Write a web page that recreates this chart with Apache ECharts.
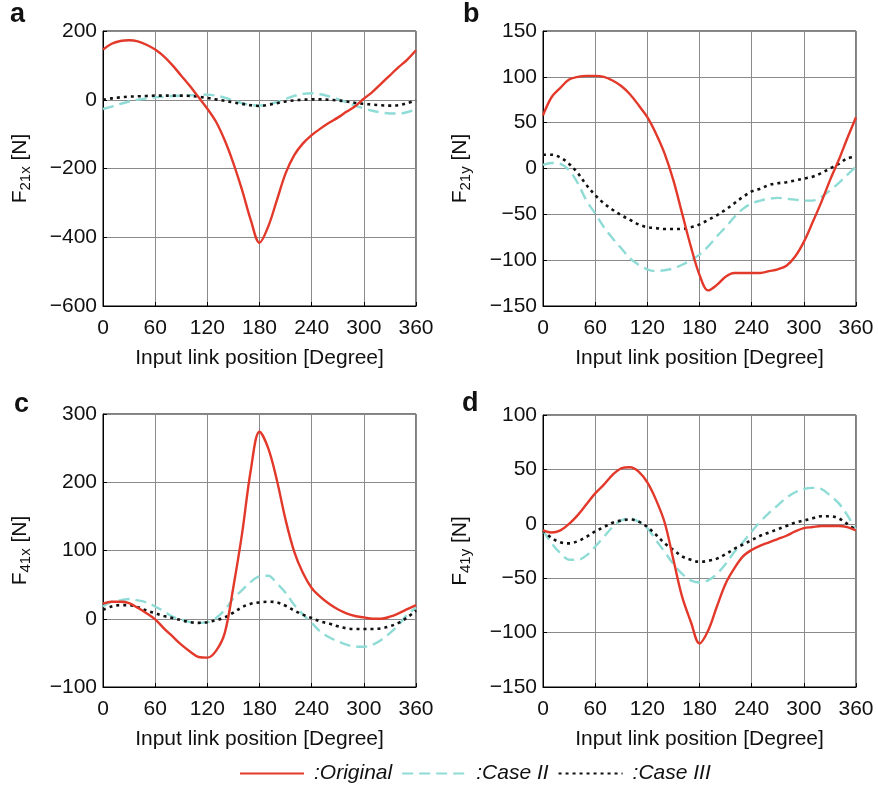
<!DOCTYPE html>
<html>
<head>
<meta charset="utf-8">
<script src="https://cdn.jsdelivr.net/npm/echarts@6/dist/echarts.min.js"></script>
<style>
  html, body { margin: 0; padding: 0; background: #fff; }
  #main { width: 878px; height: 788px; }
</style>
</head>
<body>
<div id="main"></div>
<script>
// input link position, degrees
var deg = [0, 10, 20, 30, 40, 50, 60, 70, 80, 90, 100, 110, 120, 130, 140, 150, 160, 170, 180,
           190, 200, 210, 220, 230, 240, 250, 260, 270, 280, 290, 300, 310, 320, 330, 340, 350, 360];

// a: F21x
var aOrig  = [146, 163, 171, 173, 170, 160, 146, 126, 100, 70, 40, 7, -26, -64, -118, -185, -263, -350, -416,
              -369, -292, -214, -161, -127, -103, -84, -67, -52, -35, -19, 3, 23, 47, 71, 95, 117, 144];
var aCase2 = [-27, -20, -12, -5, 0, 4, 7, 9, 11, 12, 13, 14, 15, 12, 6, -2, -10, -15, -17,
              -13, -7, 2, 11, 17, 19, 16, 10, 2, -8, -17, -25, -32, -37, -40, -40, -36, -28];
var aCase3 = [0, 4, 7, 9, 10, 11, 12, 12, 12, 12, 11, 9, 5, 1, -3, -8, -12, -16, -18,
              -15, -10, -5, -2, 0, 1, 1, 0, -2, -5, -9, -12, -14, -16, -17, -16, -10, -2];

// b: F21y
var bOrig  = [58, 78, 88, 97, 100, 101, 101, 100, 96, 90, 81, 69, 56, 38, 16, -13, -49, -85, -116,
              -133, -127, -118, -114, -114, -114, -114, -112, -110, -106, -96, -80, -59, -37, -13, 9, 33, 56];
var bCase2 = [4, 6, 5, -2, -16, -35, -49, -64, -76, -87, -98, -105, -110, -112, -111, -109, -105, -100, -94,
              -85, -74, -64, -53, -44, -38, -35, -33, -32, -33, -34, -35, -35, -31, -24, -16, -7, 2];
var bCase3 = [15, 15, 12, 5, -5, -18, -29, -38, -45, -51, -56, -61, -64, -65, -66, -66, -66, -64, -61,
              -56, -51, -45, -38, -31, -25, -22, -18, -16, -15, -13, -11, -9, -5, 0, 5, 11, 13];

// c: F41x
var cOrig  = [22, 25, 25, 23, 16, 8, -1, -14, -26, -38, -48, -56, -57, -47, -21, 47, 125, 218, 274,
              250, 203, 145, 98, 67, 45, 32, 22, 14, 8, 4, 2, 0, 0, 3, 8, 14, 20];
var cCase2 = [18, 25, 27, 29, 27, 24, 18, 11, 3, -1, -5, -6, -5, 1, 13, 30, 42, 54, 62,
              63, 52, 38, 20, 6, -6, -19, -27, -33, -38, -41, -41, -38, -31, -21, -9, 6, 16];
var cCase3 = [13, 18, 20, 20, 17, 12, 8, 4, 1, -2, -5, -6, -5, -2, 2, 9, 17, 22, 24,
              25, 24, 19, 12, 6, 1, -4, -7, -11, -14, -15, -15, -15, -14, -11, -6, 2, 12];

// d: F41y
var dOrig  = [-6, -8, -6, 0, 8, 18, 28, 36, 45, 51, 52, 48, 38, 22, 1, -33, -67, -90, -110,
              -98, -76, -55, -41, -30, -24, -20, -17, -14, -11, -7, -4, -3, -2, -2, -2, -3, -6];
var dCase2 = [-6, -18, -27, -33, -33, -29, -21, -12, -3, 3, 5, 2, -4, -15, -26, -37, -46, -52, -54,
              -52, -46, -37, -26, -17, -7, 2, 10, 17, 24, 29, 32, 33, 32, 26, 19, 8, -6];
var dCase3 = [-6, -13, -17, -18, -16, -12, -7, -3, 1, 3, 4, 2, -3, -10, -18, -24, -30, -33, -35,
              -34, -32, -28, -23, -19, -15, -11, -8, -5, -2, 1, 3, 5, 7, 7, 5, 0, -6];

var seriesNames = ['Original', 'Case II', 'Case III'];
var yNames = [['21x', 200, -600, 200], ['21y', 150, -150, 50], ['41x', 300, -100, 100], ['41y', 100, -150, 50]];
var panelLetters = ['a', 'b', 'c', 'd'];

var FONT = '"Liberation Sans", Arial, Helvetica, sans-serif';
var RED = '#e2392b', CYAN = '#8fdcd6', BLACK = '#111';

var grids = [
    {left: 103, top: 31, width: 313, height: 275},
    {left: 543, top: 31, width: 313, height: 275},
    {left: 103, top: 414, width: 313, height: 273},
    {left: 543, top: 415, width: 313, height: 272}
];
grids.forEach(function (g) {
    g.show = true;
    g.borderColor = '#000';
    g.borderWidth = 1;
    g.backgroundColor = 'transparent';
    g.containLabel = false;
});

function pairs(vals) {
    return deg.map(function (d, i) { return [d, vals[i]]; });
}

var xAxes = [], yAxes = [];
for (var i = 0; i < 4; i++) {
    xAxes.push({
        type: 'value', gridIndex: i, min: 0, max: 360, interval: 60,
        name: 'Input link position [Degree]', nameLocation: 'middle', nameGap: 42,
        nameTextStyle: {fontFamily: FONT, fontSize: 21, color: '#111'},
        axisLine: {show: true, onZero: false, lineStyle: {color: '#000', width: 1}},
        axisTick: {show: true, inside: true, length: 4, lineStyle: {color: '#000'}},
        axisLabel: {fontFamily: FONT, fontSize: 21, color: '#111', margin: 12},
        splitLine: {show: true, lineStyle: {color: '#8a8a8a', width: 1}}
    });
    var yn = yNames[i];
    yAxes.push({
        type: 'value', gridIndex: i, min: yn[2], max: yn[1], interval: yn[3],
        name: '{n|F}{s|' + yn[0] + '}{n| [N]}', nameLocation: 'middle', nameGap: 70,
        nameTextStyle: {
            fontFamily: FONT, color: '#111',
            rich: {
                n: {fontFamily: FONT, fontSize: 21, lineHeight: 26, color: '#111'},
                s: {fontFamily: FONT, fontSize: 15, lineHeight: 17, verticalAlign: 'bottom', color: '#111'}
            }
        },
        axisLine: {show: true, onZero: false, lineStyle: {color: '#000', width: 1}},
        axisTick: {show: true, inside: true, length: 4, lineStyle: {color: '#000'}},
        axisLabel: {
            fontFamily: FONT, fontSize: 21, color: '#111', margin: 6,
            formatter: function (v) { return v < 0 ? '\u2212' + Math.abs(v) : String(v); }
        },
        splitLine: {show: true, lineStyle: {color: '#8a8a8a', width: 1}}
    });
}

var panelData = [
    [aOrig, aCase2, aCase3],
    [bOrig, bCase2, bCase3],
    [cOrig, cCase2, cCase3],
    [dOrig, dCase2, dCase3]
];

var series = [];
panelData.forEach(function (p, i) {
    // cyan and black first, red on top
    series.push({
        name: seriesNames[1], type: 'line', xAxisIndex: i, yAxisIndex: i,
        data: pairs(p[1]), showSymbol: false, symbol: 'none', smooth: 0.35,
        lineStyle: {color: CYAN, width: 2.4, type: [11, 6], cap: 'butt'},
        itemStyle: {color: CYAN}
    });
    series.push({
        name: seriesNames[2], type: 'line', xAxisIndex: i, yAxisIndex: i,
        data: pairs(p[2]), showSymbol: false, symbol: 'none', smooth: 0.35,
        lineStyle: {color: BLACK, width: 2.6, type: [3, 4], cap: 'butt'},
        itemStyle: {color: BLACK}
    });
    series.push({
        name: seriesNames[0], type: 'line', xAxisIndex: i, yAxisIndex: i,
        data: pairs(p[0]), showSymbol: false, symbol: 'none', smooth: 0.35,
        lineStyle: {color: RED, width: 2.4},
        itemStyle: {color: RED}
    });
});

var letterPos = [[10, 1], [463, 1], [14, 391], [462, 390]];
var graphics = panelLetters.map(function (l, i) {
    return {
        type: 'text', left: letterPos[i][0], top: letterPos[i][1],
        style: {text: l, fontFamily: FONT, fontSize: 27, fontWeight: 'bold', fill: '#111'}
    };
});

var option = {
    animation: false,
    backgroundColor: '#fff',
    grid: grids,
    xAxis: xAxes,
    yAxis: yAxes,
    legend: {
        data: seriesNames,
        left: 239, top: 763, padding: 0,
        itemWidth: 64, itemHeight: 14, itemGap: 9,
        itemStyle: {opacity: 0, borderWidth: 0},
        formatter: function (name) { return ':' + name; },
        textStyle: {fontFamily: FONT, fontSize: 21, fontStyle: 'italic', color: '#111', padding: [0, 0, 0, 5]},
        selectedMode: false
    },
    graphic: graphics,
    series: series
};

var myChart = echarts.init(document.getElementById('main'));
myChart.setOption(option);
</script>
</body>
</html>
